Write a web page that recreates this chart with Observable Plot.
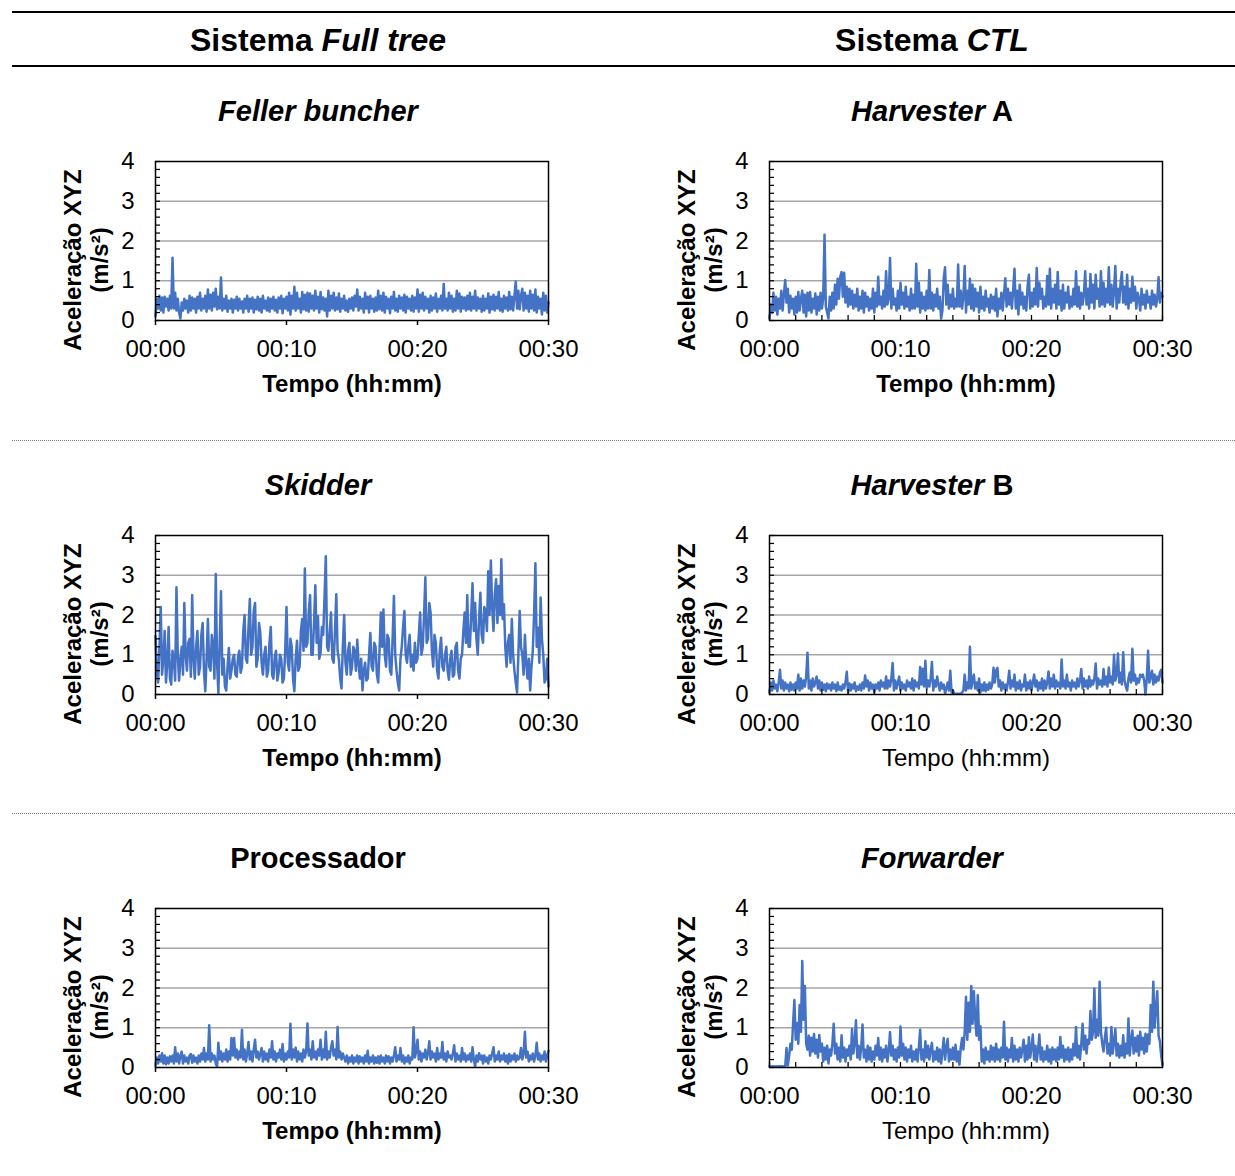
<!DOCTYPE html>
<html><head><meta charset="utf-8">
<script src="https://cdn.jsdelivr.net/npm/d3@7"></script>
<script src="https://cdn.jsdelivr.net/npm/@observablehq/plot@0.6"></script>
<style>
body{margin:0;background:#fff;}
#page{position:relative;width:1235px;height:1176px;font-family:"Liberation Sans",Arial,sans-serif;color:#000;overflow:hidden}
.hline{position:absolute;left:12px;right:0;height:0;border-top:2px solid #000}
.dline{position:absolute;left:12px;right:0;height:0;border-top:1px dotted #7f7f7f}
.head{position:absolute;width:440px;text-align:center;font-weight:bold;font-size:32px;line-height:32px;white-space:nowrap}
.sub{position:absolute;width:440px;text-align:center;font-weight:bold;font-size:29px;line-height:29px;white-space:nowrap}
.chart{position:absolute}
</style></head>
<body><div id="page"></div>
<script>
// ---- data (m/s², one value every 6 s over 30 min; one row = 1 minute) ----
const fellerBuncher = [
 0.10,0.55,0.30,0.62,0.25,0.58,0.20,0.60,0.35,0.55,
 0.25,0.62,0.30,1.58,0.30,0.70,0.25,0.55,0.20,0.05,
 0.45,0.25,0.55,0.30,0.50,0.20,0.62,0.25,0.58,0.30,
 0.55,0.20,0.60,0.30,0.70,0.25,0.55,0.30,0.62,0.22,
 0.78,0.30,0.65,0.25,0.70,0.35,0.80,0.28,0.60,0.30,
 1.08,0.25,0.55,0.30,0.62,0.22,0.50,0.30,0.55,0.20,
 0.52,0.30,0.60,0.25,0.55,0.30,0.48,0.20,0.55,0.30,
 0.62,0.22,0.55,0.30,0.58,0.20,0.52,0.28,0.60,0.25,
 0.55,0.20,0.62,0.30,0.50,0.25,0.58,0.22,0.55,0.30,
 0.60,0.25,0.52,0.20,0.58,0.30,0.62,0.18,0.55,0.30,
 0.60,0.25,0.70,0.15,0.62,0.30,0.85,0.25,0.70,0.30,
 0.55,0.20,0.72,0.28,0.65,0.25,0.70,0.22,0.68,0.30,
 0.62,0.25,0.75,0.30,0.60,0.20,0.72,0.28,0.58,0.25,
 0.55,0.10,0.75,0.25,0.62,0.30,0.70,0.25,0.58,0.28,
 0.68,0.22,0.55,0.30,0.62,0.25,0.50,0.22,0.55,0.30,
 0.58,0.25,0.62,0.35,0.78,0.25,0.60,0.30,0.55,0.20,
 0.70,0.30,0.60,0.20,0.62,0.30,0.55,0.22,0.58,0.25,
 0.75,0.28,0.62,0.25,0.70,0.20,0.60,0.30,0.55,0.18,
 0.60,0.30,0.72,0.25,0.55,0.22,0.62,0.30,0.58,0.25,
 0.65,0.20,0.60,0.30,0.55,0.25,0.62,0.22,0.58,0.30,
 0.78,0.22,0.65,0.30,0.70,0.25,0.60,0.30,0.55,0.20,
 0.62,0.25,0.58,0.30,0.68,0.22,0.55,0.30,0.62,0.25,
 0.92,0.30,0.55,0.25,0.70,0.30,0.62,0.22,0.55,0.25,
 0.75,0.30,0.68,0.22,0.60,0.30,0.58,0.25,0.62,0.28,
 0.70,0.25,0.60,0.30,0.75,0.25,0.58,0.30,0.55,0.22,
 0.62,0.25,0.55,0.30,0.68,0.20,0.60,0.28,0.65,0.25,
 0.60,0.30,0.72,0.25,0.55,0.22,0.62,0.30,0.58,0.25,
 0.72,0.28,0.60,0.25,0.62,0.98,0.30,0.75,0.28,0.62,
 0.80,0.25,0.70,0.30,0.62,0.22,0.75,0.30,0.65,0.25,
 0.78,0.20,0.60,0.30,0.55,0.15,0.70,0.25,0.62,0.20,
 0.45];
const harvesterA = [
 0.05,0.40,0.20,0.70,0.25,0.60,0.15,0.55,0.30,0.75,
 0.25,0.65,1.02,0.45,0.80,0.20,0.62,0.30,0.55,0.15,
 0.60,0.20,0.72,0.25,0.55,0.75,0.20,0.65,0.10,0.70,
 0.25,0.72,0.20,0.55,0.30,0.68,0.15,0.60,0.25,0.70,
 0.30,0.55,2.16,0.35,0.20,0.05,0.60,0.25,0.70,0.30,
 0.90,0.40,1.05,0.55,1.10,1.22,0.60,1.20,0.45,0.85,
 0.35,0.80,0.40,0.75,0.30,0.65,0.35,0.80,0.25,0.60,
 0.30,0.75,0.20,0.70,0.35,0.60,0.25,0.55,0.30,0.80,
 0.20,0.70,0.35,1.10,0.40,0.60,0.30,0.75,0.35,1.24,
 0.40,0.55,1.57,0.30,0.80,0.40,0.55,0.25,0.75,0.30,
 0.95,0.40,0.70,0.30,0.85,0.35,0.60,0.25,0.80,0.30,
 0.65,0.30,1.43,0.35,0.95,0.20,0.70,0.30,0.60,0.25,
 0.75,0.30,1.27,0.30,0.70,0.25,0.65,0.35,0.80,0.30,
 0.60,0.05,0.25,1.05,1.34,0.40,0.90,0.30,0.65,0.35,
 0.80,0.30,0.55,0.35,1.41,0.35,0.75,0.30,0.60,1.37,
 0.20,0.75,0.40,1.05,0.30,0.90,0.25,0.80,0.35,0.70,
 0.20,0.85,0.30,0.60,0.25,0.75,0.35,0.55,0.20,0.65,
 0.30,0.60,0.25,0.80,0.10,0.55,0.30,0.70,0.25,0.65,
 1.06,0.35,0.80,0.40,0.70,0.30,0.75,1.30,0.30,0.75,
 0.15,0.90,0.40,0.70,0.30,0.60,0.25,0.85,1.15,0.30,
 0.70,0.35,0.80,0.40,1.32,0.35,0.95,0.55,0.80,0.30,
 0.60,0.35,1.12,0.40,1.30,0.30,0.80,0.45,0.90,0.30,
 1.22,0.40,0.75,0.25,0.90,0.30,0.70,0.45,0.85,0.30,
 0.60,0.35,0.80,0.40,1.24,0.35,0.85,0.30,0.70,0.40,
 0.65,1.24,0.40,0.80,0.30,1.17,0.45,0.90,0.30,1.15,
 0.55,0.80,0.35,1.24,0.40,0.95,0.35,0.80,0.45,1.34,
 0.40,0.90,0.35,0.75,1.37,0.30,0.80,0.45,0.95,1.22,
 0.45,0.85,0.40,1.15,0.30,0.80,0.45,1.10,0.50,0.85,
 0.30,0.70,0.55,0.25,0.80,0.40,0.65,0.30,0.75,0.45,
 0.60,0.30,0.75,0.40,0.65,0.35,0.55,1.09,0.45,0.70,
 0.60];
const skidder = [
 1.47,0.60,0.30,1.20,2.20,0.50,0.90,1.60,0.30,0.80,
 1.70,0.40,0.25,1.10,0.90,0.35,2.70,1.00,0.35,0.90,
 1.20,0.50,2.30,1.00,0.60,1.30,1.40,0.45,2.50,0.90,
 0.40,1.20,1.60,0.50,0.70,1.50,1.80,0.60,0.08,0.90,
 1.90,0.70,0.60,1.50,1.20,0.40,3.03,0.80,0.03,1.30,
 2.60,0.50,0.90,0.20,0.10,0.70,1.17,0.40,0.60,0.90,
 1.00,0.50,0.45,0.95,1.10,0.55,0.70,1.60,2.00,0.90,
 0.80,1.70,2.40,1.00,1.20,2.10,2.30,0.70,0.90,1.80,
 1.55,0.80,0.50,1.00,1.20,0.45,0.60,1.30,1.70,0.50,
 0.40,0.95,1.10,0.35,0.55,1.00,0.90,0.30,0.40,1.10,
 2.20,0.80,0.60,1.40,1.20,0.40,0.08,0.90,1.35,0.60,
 0.70,1.60,1.90,1.10,3.17,1.20,1.30,2.10,2.50,1.00,
 1.00,1.80,2.75,1.30,1.97,0.90,1.05,1.70,1.50,2.40,
 3.48,1.20,1.10,1.60,2.06,0.90,0.80,1.60,2.52,1.10,
 0.88,0.40,0.15,1.20,2.00,0.80,0.50,1.10,1.30,0.50,
 0.70,1.20,1.10,0.60,1.38,0.80,0.40,0.90,0.10,0.60,
 0.80,0.35,0.40,1.00,1.55,0.70,0.60,1.30,1.20,0.50,
 0.30,1.10,2.06,1.20,2.14,1.00,0.70,1.50,1.40,0.60,
 0.50,1.40,2.48,1.00,0.60,0.30,0.10,0.90,1.20,1.70,
 2.10,1.00,0.80,1.20,1.50,0.70,1.00,0.60,1.30,0.80,
 0.90,1.50,2.06,1.00,1.20,2.00,2.95,1.30,1.40,2.30,
 2.06,1.10,0.70,1.50,1.30,0.60,0.40,1.10,1.43,0.70,
 0.60,1.00,1.20,0.60,0.37,0.90,1.10,0.45,0.50,1.20,
 1.30,0.60,0.40,0.90,1.00,1.60,2.06,1.30,2.50,1.20,
 1.20,2.00,2.80,1.60,2.30,1.40,1.00,1.90,2.56,1.50,
 1.30,2.20,2.10,1.60,3.10,2.00,3.37,2.20,1.60,2.50,
 2.90,1.80,2.73,2.00,3.40,1.90,2.27,1.20,0.70,1.30,
 1.50,0.80,1.90,1.00,0.60,0.30,0.05,1.00,2.10,1.20,
 1.00,0.50,1.50,0.80,0.40,0.90,0.10,0.70,1.10,2.00,
 3.30,1.20,1.68,0.80,2.44,1.40,1.00,0.30,0.40,0.90,
 0.20];
const harvesterB = [
 0.05,0.30,0.10,0.35,0.15,0.25,0.08,0.30,0.62,0.15,
 0.35,0.10,0.30,0.15,0.25,0.08,0.30,0.12,0.25,0.10,
 0.30,0.15,0.50,0.10,0.40,0.15,0.35,0.20,0.45,1.05,
 0.15,0.35,0.10,0.40,0.20,0.30,0.45,0.15,0.35,0.10,
 0.30,0.12,0.25,0.08,0.28,0.15,0.25,0.10,0.30,0.15,
 0.25,0.08,0.30,0.12,0.20,0.10,0.25,0.15,0.30,0.57,
 0.05,0.28,0.10,0.25,0.15,0.30,0.08,0.20,0.12,0.25,
 0.10,0.30,0.15,0.48,0.20,0.35,0.10,0.30,0.15,0.25,
 0.05,0.25,0.15,0.30,0.10,0.35,0.20,0.30,0.15,0.45,
 0.15,0.35,0.20,0.40,0.79,0.10,0.35,0.15,0.30,0.45,
 0.10,0.30,0.15,0.25,0.10,0.35,0.20,0.30,0.15,0.40,
 0.10,0.35,0.20,0.30,0.15,0.69,0.25,0.65,0.20,0.85,
 0.15,0.35,0.20,0.40,0.82,0.10,0.35,0.20,0.45,0.25,
 0.10,0.30,0.15,0.25,0.03,0.15,0.30,0.10,0.60,0.05,
 0.10,0.02,0.02,0.02,0.02,0.02,0.02,0.05,0.10,0.50,
 0.10,0.30,0.15,1.20,0.15,0.35,0.50,0.15,0.30,0.10,
 0.40,0.05,0.25,0.10,0.30,0.08,0.25,0.12,0.30,0.15,
 0.25,0.67,0.30,0.60,0.67,0.20,0.35,0.10,0.30,0.15,
 0.25,0.10,0.30,0.60,0.15,0.35,0.20,0.50,0.10,0.30,
 0.15,0.35,0.10,0.25,0.20,0.50,0.10,0.30,0.15,0.35,
 0.10,0.30,0.50,0.20,0.35,0.10,0.30,0.15,0.40,0.10,
 0.35,0.15,0.30,0.58,0.15,0.40,0.20,0.50,0.15,0.35,
 0.20,0.30,0.15,0.88,0.20,0.35,0.15,0.50,0.20,0.30,
 0.10,0.35,0.20,0.30,0.15,0.40,0.20,0.35,0.64,0.15,
 0.40,0.20,0.35,0.15,0.45,0.20,0.35,0.25,0.40,0.78,
 0.15,0.40,0.25,0.35,0.20,0.64,0.25,0.45,0.20,0.68,
 0.30,0.45,0.25,1.00,0.35,0.50,1.03,0.30,0.55,0.25,
 1.06,0.35,0.20,0.10,0.40,0.55,0.30,1.15,0.35,0.50,
 0.25,0.40,0.30,0.50,0.45,0.50,0.35,0.00,0.40,1.10,
 0.30,0.45,0.60,0.25,0.50,0.30,0.45,0.35,0.55,0.62,
 0.30];
const processador = [
 0.05,0.25,0.10,0.30,0.15,0.36,0.10,0.30,0.08,0.25,
 0.10,0.28,0.15,0.30,0.10,0.51,0.15,0.35,0.10,0.30,
 0.40,0.10,0.30,0.15,0.25,0.10,0.30,0.34,0.12,0.30,
 0.15,0.25,0.10,0.30,0.15,0.35,0.20,0.49,0.15,0.35,
 0.20,1.06,0.15,0.35,0.20,0.30,0.10,0.02,0.62,0.20,
 0.40,0.15,0.35,0.20,0.45,0.15,0.40,0.20,0.74,0.30,
 0.74,0.25,0.45,0.20,0.40,0.25,0.95,0.20,0.45,0.15,
 0.35,0.64,0.20,0.40,0.15,0.45,0.70,0.25,0.40,0.20,
 0.35,0.49,0.15,0.40,0.20,0.35,0.15,0.45,0.25,0.66,
 0.20,0.40,0.15,0.35,0.25,0.45,0.20,0.59,0.15,0.35,
 0.20,0.40,0.25,1.10,0.20,0.45,0.25,0.50,0.15,0.40,
 0.20,0.35,0.15,0.45,0.25,0.40,1.11,0.30,0.45,0.20,
 0.66,0.25,0.40,0.20,0.45,0.30,0.70,0.20,0.45,0.25,
 0.90,0.20,0.40,0.25,0.50,0.66,0.30,0.45,0.20,1.02,
 0.25,0.40,0.20,0.35,0.25,0.15,0.30,0.10,0.25,0.15,
 0.30,0.10,0.25,0.15,0.30,0.10,0.28,0.15,0.25,0.10,
 0.30,0.15,0.42,0.10,0.25,0.15,0.30,0.10,0.25,0.12,
 0.28,0.10,0.30,0.15,0.25,0.10,0.30,0.15,0.28,0.10,
 0.25,0.15,0.30,0.51,0.15,0.30,0.20,0.49,0.15,0.30,
 0.10,0.25,0.15,0.30,0.10,0.25,0.20,1.01,0.25,0.40,
 0.70,0.20,0.40,0.15,0.35,0.25,0.45,0.20,0.35,0.66,
 0.20,0.40,0.25,0.35,0.15,0.49,0.20,0.35,0.25,0.64,
 0.20,0.35,0.15,0.40,0.25,0.30,0.20,0.35,0.56,0.15,
 0.35,0.20,0.30,0.15,0.49,0.20,0.35,0.15,0.30,0.20,
 0.35,0.15,0.51,0.20,0.02,0.30,0.15,0.36,0.20,0.30,
 0.10,0.30,0.15,0.25,0.10,0.30,0.20,0.35,0.51,0.15,
 0.30,0.20,0.40,0.15,0.30,0.20,0.35,0.15,0.30,0.10,
 0.34,0.15,0.30,0.20,0.35,0.15,0.30,0.20,0.25,0.49,
 0.20,0.35,0.90,0.25,0.40,0.15,0.30,0.20,0.35,0.15,
 0.30,0.62,0.20,0.35,0.15,0.30,0.20,0.40,0.15,0.30,
 0.42];
const forwarder = [
 0.03,0.03,0.02,0.03,0.02,0.03,0.02,0.03,0.03,0.02,
 0.03,0.02,0.03,0.49,0.05,0.30,0.60,0.45,1.10,1.70,
 0.70,1.12,0.60,1.57,0.90,2.68,1.20,2.05,0.60,0.45,
 0.80,0.30,0.75,0.40,0.84,0.35,0.70,0.25,0.82,0.40,
 0.60,0.15,0.50,0.20,0.55,0.10,0.45,0.30,0.60,1.10,
 0.35,0.60,0.20,0.50,0.15,0.81,0.25,0.50,0.15,0.45,
 0.30,0.55,0.20,0.97,0.35,0.60,1.19,0.25,0.55,0.20,
 0.50,1.08,0.25,0.45,0.15,0.55,0.20,0.50,0.15,0.40,
 0.20,0.55,0.30,0.74,0.20,0.50,0.15,0.45,0.25,0.55,
 0.15,0.40,0.89,0.30,0.55,0.20,0.45,0.15,0.50,0.25,
 1.03,0.30,0.60,0.20,0.50,0.15,0.45,0.25,0.55,0.15,
 0.40,0.20,0.45,0.15,0.50,0.95,0.20,0.45,0.15,0.66,
 0.25,0.55,0.20,0.45,0.62,0.15,0.40,0.20,0.50,0.15,
 0.45,0.10,0.40,0.74,0.20,0.50,0.72,0.15,0.45,0.20,
 0.50,0.20,0.57,0.15,0.40,0.07,0.50,0.74,0.45,0.90,
 1.78,0.70,1.63,0.90,2.05,1.10,1.92,1.25,0.80,1.82,
 0.70,1.04,0.15,0.45,0.10,0.50,0.20,0.40,0.15,0.55,
 0.20,0.50,0.15,0.60,0.20,0.45,0.15,0.50,0.25,1.15,
 0.20,0.50,0.15,0.45,0.25,0.74,0.15,0.55,0.20,0.45,
 0.15,0.50,0.25,0.45,0.70,0.15,0.55,0.20,0.76,0.25,
 0.50,0.83,0.20,0.55,0.15,0.45,0.83,0.20,0.50,0.15,
 0.40,0.20,0.55,0.15,0.45,0.10,0.50,0.20,0.45,0.15,
 0.50,0.20,0.77,0.25,0.55,0.15,0.45,0.20,0.50,0.15,
 0.45,0.20,0.60,0.30,1.02,0.25,0.55,0.20,0.60,1.10,
 0.45,0.80,0.35,0.70,0.60,1.42,0.70,0.90,1.99,0.75,
 1.20,0.80,2.16,0.90,0.60,0.40,0.75,1.00,0.35,0.60,
 0.30,1.02,0.35,0.65,0.97,0.30,0.60,0.25,0.55,0.30,
 0.81,0.25,0.60,0.35,1.23,0.30,0.70,0.93,0.35,0.75,
 0.40,0.80,0.30,0.90,0.45,0.75,0.35,0.85,0.40,0.83,
 0.60,1.57,0.90,2.16,1.00,1.50,1.92,0.80,0.66,0.30,
 0.07];

const xLabelTicks = [0, 10, 20, 30];            // minutes
const xMinorTicksCTL = d3.range(0, 31, 2);      // minutes
const yLabelTicks = [0, 1, 2, 3, 4];
const yGridTicks = [1, 2, 3];
const yMinorTicks = d3.range(0, 21).map(k => k / 5);
const headTitles = ["Sistema <i>Full tree</i>", "Sistema <i>CTL</i>"];
const xTitle = "Tempo (hh:mm)";
const yTitle1 = "Aceleração XYZ";
const yTitle2 = "(m/s²)";

const charts = [
  {title: "<i>Feller buncher</i>", values: fellerBuncher, col: 0, row: 0, boldX: true},
  {title: "<i>Harvester</i> A", values: harvesterA, col: 1, row: 0, boldX: true},
  {title: "<i>Skidder</i>", values: skidder, col: 0, row: 1, boldX: true},
  {title: "<i>Harvester</i> B", values: harvesterB, col: 1, row: 1, boldX: false},
  {title: "Processador", values: processador, col: 0, row: 2, boldX: true},
  {title: "<i>Forwarder</i>", values: forwarder, col: 1, row: 2, boldX: false}
];

// ---- layout ----
const page = document.getElementById("page");
function el(cls, css, html) {
  const d = document.createElement("div");
  d.className = cls; Object.assign(d.style, css);
  if (html) d.innerHTML = html;
  page.appendChild(d); return d;
}
el("hline", {top: "11px"});
el("hline", {top: "65px"});
el("dline", {top: "440px"});
el("dline", {top: "813px"});
const colCenters = [318, 932];
headTitles.forEach((t, i) => el("head", {left: (colCenters[i] - 220) + "px", top: "24px"}, t));

const fmt = m => "00:" + String(m).padStart(2, "0");
const plotH = 159, plotW = 393;

charts.forEach(c => {
  const rowTop = 140 + Math.round(c.row * 373.5);
  el("sub", {left: (colCenters[c.col] - 220) + "px", top: (rowTop - 43) + "px"}, c.title);
  const data = c.values.map((v, i) => ({t: i * 30 / (c.values.length - 1), v}));
  const marks = [
    Plot.ruleY(yGridTicks, {stroke: "#a6a6a6", strokeWidth: 1.5}),
    Plot.line(data, {x: "t", y: "v", stroke: "#4472C4", strokeWidth: 2.5, strokeLinejoin: "round"}),
    Plot.tickY(yMinorTicks, {y: d => d, stroke: "#000", strokeWidth: 1.25, insetRight: plotW - 5}),
    Plot.axisY({ticks: yLabelTicks, tickSize: 0, tickPadding: 21, tickFormat: d => String(d), label: null}),
    Plot.text([yTitle1], {text: d => d, frameAnchor: "left", rotate: -90, dx: -82, dy: 19, fontWeight: "bold", textAnchor: "middle", lineAnchor: "middle"}),
    Plot.text([yTitle2], {text: d => d, frameAnchor: "left", rotate: -90, dx: -55, dy: 19, fontWeight: "bold", textAnchor: "middle", lineAnchor: "middle"}),
    Plot.text([xTitle], {text: d => d, frameAnchor: "bottom", dy: 64, fontWeight: c.boldX ? "bold" : "normal", textAnchor: "middle", lineAnchor: "middle"})
  ];
  if (c.col === 0) {
    marks.push(Plot.axisX({ticks: xLabelTicks, tickSize: 5, tickPadding: 14.5, tickFormat: fmt, label: null, strokeWidth: 1.5}));
  } else {
    marks.push(Plot.tickX(xMinorTicksCTL, {x: d => d, stroke: "#000", strokeWidth: 1.25, insetTop: plotH - 5}));
    marks.push(Plot.axisX({ticks: xLabelTicks, tickSize: 0, tickPadding: 19.5, tickFormat: fmt, label: null}));
  }
  marks.push(Plot.frame({stroke: "#000", strokeWidth: 1.5}));
  const svg = Plot.plot({
    width: 615, height: 260,
    marginLeft: 155, marginRight: 67, marginTop: 21, marginBottom: 80,
    x: {type: "linear", domain: [0, 30]},
    y: {domain: [0, 4]},
    style: {fontFamily: '"Liberation Sans", Arial, sans-serif', fontSize: "24px", color: "#000", background: "transparent", overflow: "visible"},
    marks
  });
  const wrap = el("chart", {left: (c.col * 614) + "px", top: rowTop + "px"});
  wrap.appendChild(svg);
});
</script>
</body></html>
